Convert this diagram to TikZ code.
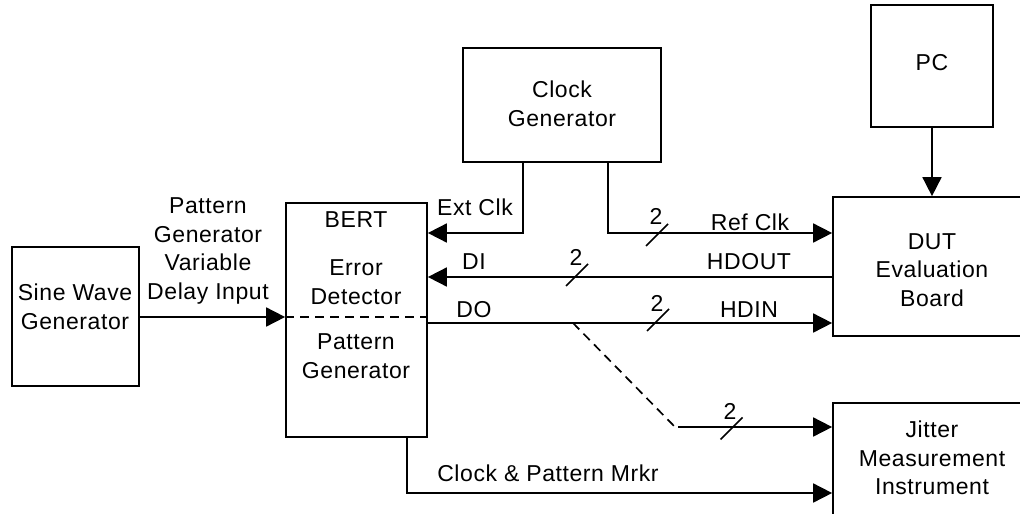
\documentclass[tikz,border=0pt]{standalone}
\usepackage{fontspec}
\setmainfont[LetterSpace=2.5]{Liberation Sans}
\usetikzlibrary{arrows.meta,calc}
\begin{document}
\begin{tikzpicture}[x=1pt,y=-1pt, line width=1.7pt,
  box/.style={draw, line width=1.7pt, inner sep=0pt},
  txt/.style={align=center, font=\fontsize{23}{28.5}\selectfont, inner sep=0pt},
  arr/.style={-{Triangle[length=19pt,width=19pt]}},
  dsh/.style={dash pattern=on 9pt off 6pt},
  slashmark/.style={line width=1.7pt}]
\useasboundingbox (0,0) rectangle (1020,514);
\clip (0,0) rectangle (1020,514);
% boxes
\node[box, minimum width=127pt, minimum height=139pt] (sine) at (75.5,316.5) {};
\node[box, minimum width=141pt, minimum height=234pt] (bert) at (356.5,320) {};
\node[box, minimum width=198pt, minimum height=114pt] (clk) at (562,105) {};
\node[box, minimum width=122pt, minimum height=122pt] (pc) at (932,66) {};
\node[box, minimum width=198pt, minimum height=139pt] (dut) at (932,266.5) {};
\node[box, minimum width=198pt, minimum height=140pt] (jit) at (932,473) {};
% box texts
\node[txt] (sinet) at (75,307) {Sine Wave\\Generator};
\node[txt] (bertt) at (356,220) {BERT};
\node[txt] (edt) at (356,282) {Error\\Detector};
\node[txt] (pgt) at (356,356) {Pattern\\Generator};
\node[txt] (clkt) at (562,104) {Clock\\Generator};
\node[txt] (pct) at (932,63) {PC};
\node[txt] (dutt) at (932,270) {DUT\\Evaluation\\Board};
\node[txt] (jitt) at (932,458) {Jitter\\Measurement\\Instrument};
\node[txt] (pgvd) at (208,251) {Pattern\\Generator\\Variable\\Delay Input};
% coordinates
\coordinate (extc) at (523,233);
\coordinate (refc) at (608,233);
\coordinate (hd) at (0,277);
\coordinate (dox) at (0,323);
\coordinate (tap) at (573,323);
\coordinate (bend) at (675,427);
\coordinate (bendb) at (678,427);
\coordinate (cm) at (407,493);
\coordinate (div) at (0,317);
% connectors
\draw[arr] (sine.east |- div) -- (bert.west |- div);
\draw[dsh] (bert.west |- div) -- (bert.east |- div);
\draw[arr] (clk.south -| extc) |- (bert.east |- extc);
\draw[arr] (clk.south -| refc) |- (dut.west |- refc);
\draw[arr] (dut.west |- hd) -- (bert.east |- hd);
\draw[arr] (bert.east |- dox) -- (dut.west |- dox);
\draw[dsh] (tap) -- (bend);
\draw[arr] (bendb) -- (jit.west |- bendb);
\draw[arr] (bert.south -| cm) |- (jit.west |- cm);
\draw[arr] (pc.south) -- (dut.north -| pc.south);
% slash marks
\coordinate (s1) at (657,235);
\coordinate (s2) at (577,275);
\coordinate (s3) at (658,320);
\coordinate (s4) at (731.5,428.5);
\foreach \s in {s1,s2,s3,s4}{
  \draw[slashmark] ($(\s)+(-11,11)$) -- ($(\s)+(11,-11)$);
}
% labels
\node[txt] (l2a) at (656,216) {2};
\node[txt] (l2b) at (576,257) {2};
\node[txt] (l2c) at (657,303) {2};
\node[txt] (l2d) at (730,411) {2};
\node[txt] (lext) at (475,207) {Ext Clk};
\node[txt] (lref) at (750,222) {Ref Clk};
\node[txt] (ldi) at (474,262) {DI};
\node[txt] (lhdout) at (749,262) {HDOUT};
\node[txt] (ldo) at (474,310) {DO};
\node[txt] (lhdin) at (749,310) {HDIN};
\node[txt] (lcm) at (548,473) {Clock \& Pattern Mrkr};
\end{tikzpicture}
\end{document}
